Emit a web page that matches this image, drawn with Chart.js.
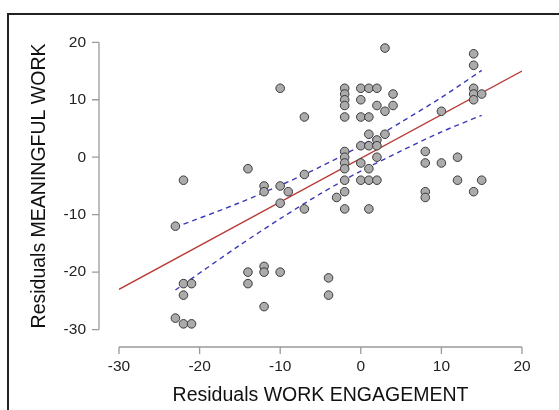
<!DOCTYPE html>
<html>
<head>
<meta charset="utf-8">
<script src="https://cdn.jsdelivr.net/npm/chart.js@4/dist/chart.umd.min.js"></script>
<style>
    html, body { margin: 0; padding: 0; background: #fff; overflow: hidden; }
    #frame { position: absolute; left: 7px; top: 13px; width: 600px; height: 450px;
             border-left: 2px solid #222; border-top: 2px solid #222; }
    #box { position: absolute; left: 0; top: 0; width: 559px; height: 410px; }
</style>
</head>
<body>
<div id="frame"></div>
<div id="box"><canvas id="canvas-chart" width="559" height="410"></canvas></div>
<script>

// residual pairs
var engagement = [
    -23, -22, -14, -12, -12, -10, -9, -10, -7, -7, -10, -7,
    -14, -14, -12, -12, -10, -12, -22, -21, -22, -23, -22, -21, -4, -4,
    -2, -2, -2, -2, -2, -2, -2, -2, -2, -2, -2, -2,
    -3,
    0, 0, 0, 0, 0, 0,
    1, 1, 1, 1, 1, 1, 1,
    2, 2, 2, 2, 2, 2,
    3, 3, 3,
    4, 4,
    8, 8, 8, 8,
    10, 10,
    12, 12,
    14, 14, 14, 14, 14, 14,
    15, 15
];
var meaningful = [
    -12, -4, -2, -5, -6, -5, -6, -8, -3, -9, 12, 7,
    -20, -22, -19, -20, -20, -26, -22, -22, -24, -28, -29, -29, -21, -24,
    12, 11, 10, 9, 7, 1, 0, -1, -2, -4, -6, -9,
    -7,
    12, 10, 7, 2, -1, -4,
    12, 7, 4, 2, -2, -4, -9,
    12, 9, 3, 2, 0, -4,
    19, 8, 4,
    11, 9,
    1, -1, -6, -7,
    8, -1,
    0, -4,
    18, 16, 12, 11, 10, -6,
    11, -4
];

// fitted line end points
var fitX = [-30, 20];
var fitY = [-23, 15];

// confidence band, read at a few x positions
var bandX = [-23, -15, -10, -5, 0, 5, 10, 15];
var bandUpper = [-12.2, -7.9, -4.9, -1.65, 2.0, 6.1, 10.4, 15.1];
var bandLower = [-23.1, -15.3, -10.7, -6.35, -2.4, 1.1, 4.4, 7.3];

var xTicks = [-30, -20, -10, 0, 10, 20];
var yTicks = [-30, -20, -10, 0, 10, 20];

function pairs(xs, ys) {
    return xs.map(function (x, i) {
        return { x: x, y: ys[i] };
    });
}

var FONT = 'Liberation Sans, Arial, Helvetica, sans-serif';

// R style axes: detached line + outward tick marks
var rAxes = {
    id: 'rAxes',
    afterDraw: function (chart) {
        var ctx = chart.ctx;
        var sx = chart.scales.x;
        var sy = chart.scales.y;
        var ax = 99, ay = 347, tl = 7;

        ctx.save();
        ctx.strokeStyle = '#9a9a9a';
        ctx.lineWidth = 1.3;

        ctx.beginPath();
        ctx.moveTo(ax, sy.getPixelForValue(yTicks[0]));
        ctx.lineTo(ax, sy.getPixelForValue(yTicks[yTicks.length - 1]));
        yTicks.forEach(function (v) {
            var p = sy.getPixelForValue(v);
            ctx.moveTo(ax, p);
            ctx.lineTo(ax - tl, p);
        });

        ctx.moveTo(sx.getPixelForValue(xTicks[0]), ay);
        ctx.lineTo(sx.getPixelForValue(xTicks[xTicks.length - 1]), ay);
        xTicks.forEach(function (v) {
            var p = sx.getPixelForValue(v);
            ctx.moveTo(p, ay);
            ctx.lineTo(p, ay + tl);
        });
        ctx.stroke();
        ctx.restore();
    }
};

var canvas = document.getElementById('canvas-chart');
var chart = new Chart(canvas.getContext('2d'), {
    type: 'scatter',
    data: {
        datasets: [
            {
                label: 'residuals',
                data: pairs(engagement, meaningful),
                backgroundColor: '#ababab',
                borderColor: '#3a3a3a',
                borderWidth: 1,
                pointRadius: 4.3,
                showLine: false,
            },
            {
                label: 'fit',
                data: pairs(fitX, fitY),
                showLine: true,
                borderColor: '#b83a35',
                borderWidth: 1.4,
                pointRadius: 0,
                fill: false,
            },
            {
                label: 'upper',
                data: pairs(bandX, bandUpper),
                showLine: true,
                borderColor: '#3b3bb8',
                borderWidth: 1.4,
                borderDash: [5, 4],
                pointRadius: 0,
                tension: 0.3,
                fill: false,
            },
            {
                label: 'lower',
                data: pairs(bandX, bandLower),
                showLine: true,
                borderColor: '#3b3bb8',
                borderWidth: 1.4,
                borderDash: [5, 4],
                pointRadius: 0,
                tension: 0.3,
                fill: false,
            },
        ],
    },
    options: {
        responsive: false,
        animation: false,
        events: [],
        layout: {
            padding: { left: 0, right: 37, top: 38.6, bottom: 0 },
        },
        plugins: {
            legend: { display: false },
            tooltip: { enabled: false },
        },
        scales: {
            x: {
                type: 'linear',
                min: -30,
                max: 20,
                afterFit: function (scale) { scale.height = 80.4; },
                afterBuildTicks: function (scale) {
                    scale.ticks = xTicks.map(function (v) { return { value: v }; });
                },
                grid: { display: false, drawTicks: false },
                border: { display: false },
                ticks: {
                    padding: 27.5,
                    color: '#222',
                    font: { family: FONT, size: 15.5 },
                },
                title: {
                    display: true,
                    text: 'Residuals WORK ENGAGEMENT',
                    color: '#111',
                    font: { family: FONT, size: 19.5 },
                    padding: { top: 0, bottom: 2.3 },
                },
            },
            y: {
                type: 'linear',
                min: -30,
                max: 20,
                afterFit: function (scale) { scale.width = 119; },
                afterBuildTicks: function (scale) {
                    scale.ticks = yTicks.map(function (v) { return { value: v }; });
                },
                grid: { display: false, drawTicks: false },
                border: { display: false },
                ticks: {
                    padding: 33,
                    color: '#222',
                    font: { family: FONT, size: 15.5 },
                },
                title: {
                    display: true,
                    text: 'Residuals MEANINGFUL WORK',
                    color: '#111',
                    font: { family: FONT, size: 19.5 },
                    padding: { top: 28.3, bottom: 0 },
                },
            },
        },
    },
    plugins: [rAxes],
});

</script>
</body>
</html>
